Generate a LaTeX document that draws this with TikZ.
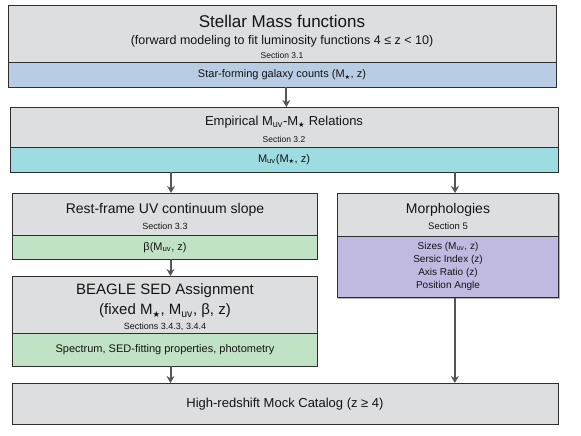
\documentclass[tikz,border=0pt]{standalone}
\usepackage{fontspec}
\setmainfont{Liberation Sans}
\newfontfamily\djv{DejaVu Sans}
\usetikzlibrary{arrows.meta}
\definecolor{boxgray}{HTML}{DDDEE0}
\definecolor{boxblue}{HTML}{B8CCE4}
\definecolor{boxcyan}{HTML}{9DDDE1}
\definecolor{boxgreen}{HTML}{BFE3C4}
\definecolor{boxpurple}{HTML}{C0BAE0}
\definecolor{boxedge}{HTML}{2E2E2E}
\definecolor{arrowgray}{HTML}{555555}
\newcommand{\fs}[1]{\fontsize{#1}{#1}\selectfont}
\newcommand{\mstar}{M\textsubscript{\djv\scalebox{0.8}{★}}}
\newcommand{\muv}{M\textsubscript{uv}}
\begin{document}
\begin{tikzpicture}[x=1pt,y=-1pt,
  part/.style={draw=boxedge,line width=1pt,anchor=north west,inner sep=0pt,outer sep=0pt},
  txt/.style={inner sep=0pt,anchor=center,text=black!92},
  arr/.style={draw=arrowgray,line width=2pt,-{Stealth[length=7pt,width=8pt]}},
  shad/.style={fill=black,opacity=0.3}]
\useasboundingbox (0,0) rectangle (581,436);
% shadows
\fill[shad] (9.9,7.3) rectangle (557.3,88.4);
\fill[shad] (11.9,108.3) rectangle (559.3,173.4);
\fill[shad] (13.2,194.3) rectangle (318.3,260.4);
\fill[shad] (13.2,277.3) rectangle (318.3,367.4);
\fill[shad] (338.2,194.3) rectangle (559.8,299.1);
\fill[shad] (13.2,384.3) rectangle (559.3,425.4);
% box 1
\node[part,fill=boxgray,minimum width=547.3pt,minimum height=56.7pt] (b1g) at (8.7,6) {};
\node[part,fill=boxblue,minimum width=547.3pt,minimum height=24.3pt] (b1c) at (8.7,62.7) {};
\node[txt,font=\fs{17}] (t1a) at (282,21) {Stellar Mass functions};
\node[txt,font=\fs{12.5}] (t1b) at (282,41) {(forward modeling to fit luminosity functions 4 ≤ z < 10)};
\node[txt,font=\fs{8.5}] (t1c) at (282,55) {Section 3.1};
\node[txt,font=\fs{11}] (t1d) at (282,75) {Star-forming galaxy counts (\mstar, z)};
% box 2
\node[part,fill=boxgray,minimum width=547.3pt,minimum height=40pt] (b2g) at (10.7,107) {};
\node[part,fill=boxcyan,minimum width=547.3pt,minimum height=25pt] (b2c) at (10.7,147) {};
\node[txt,font=\fs{13}] (t2a) at (284,122) {Empirical \muv-\mstar\ Relations};
\node[txt,font=\fs{8.5}] (t2b) at (284,139) {Section 3.2};
\node[txt,font=\fs{11}] (t2c) at (284,159.5) {\muv(\mstar, z)};
% box 3
\node[part,fill=boxgray,minimum width=305pt,minimum height=42pt] (b3g) at (12,193) {};
\node[part,fill=boxgreen,minimum width=305pt,minimum height=24pt] (b3c) at (12,235) {};
\node[txt,font=\fs{14}] (t3a) at (165,210) {Rest-frame UV continuum slope};
\node[txt,font=\fs{9}] (t3b) at (165,226) {Section 3.3};
\node[txt,font=\fs{11}] (t3c) at (165,247.5) {β(\muv, z)};
% box 4
\node[part,fill=boxgray,minimum width=305pt,minimum height=57pt] (b4g) at (12,276) {};
\node[part,fill=boxgreen,minimum width=305pt,minimum height=33pt] (b4c) at (12,333) {};
\node[txt,font=\fs{15}] (t4a) at (165,291) {BEAGLE SED Assignment};
\node[txt,font=\fs{15}] (t4b) at (165,311) {(fixed \mstar, \muv, β, z)};
\node[txt,font=\fs{9}] (t4c) at (165,327) {Sections 3.4.3, 3.4.4};
\node[txt,font=\fs{11}] (t4d) at (165,350) {Spectrum, SED-fitting properties, photometry};
% box 5
\node[part,fill=boxgray,minimum width=221.7pt,minimum height=43.7pt] (b5g) at (337,193) {};
\node[part,fill=boxpurple,minimum width=221.7pt,minimum height=61pt] (b5c) at (337,236.7) {};
\node[txt,font=\fs{14}] (t5a) at (448,210) {Morphologies};
\node[txt,font=\fs{9.5}] (t5b) at (448,226) {Section 5};
\node[txt,font=\fs{10}] (t5c) at (448,246.5) {Sizes (\muv, z)};
\node[txt,font=\fs{10}] (t5d) at (448,259.5) {Sersic Index (z)};
\node[txt,font=\fs{10}] (t5e) at (448,272.5) {Axis Ratio (z)};
\node[txt,font=\fs{10}] (t5f) at (448,285.5) {Position Angle};
% box 6
\node[part,fill=boxgray,minimum width=546pt,minimum height=41pt] (b6) at (12,383) {};
\node[txt,font=\fs{13}] (t6) at (285,404) {High-redshift Mock Catalog (z ≥ 4)};
% arrows
\draw[arr] ([xshift=4pt]b1c.south) -- ([xshift=2pt]b2g.north);
\draw[arr] (b2c.south -| t3c.north) ++(6pt,0) coordinate (a2s) -- (a2s |- b3g.north);
\draw[arr] (b2c.south -| t5a.north) ++(7pt,0) coordinate (a3s) -- (a3s |- b5g.north);
\draw[arr] ([xshift=6pt]b3c.south) -- ([xshift=6pt]b4g.north);
\draw[arr] ([xshift=6pt]b4c.south) -- ([xshift=6pt]b4c.south |- b6.north);
\draw[arr] ([xshift=7pt]b5c.south) -- ([xshift=7pt]b5c.south |- b6.north);
\end{tikzpicture}
\end{document}
